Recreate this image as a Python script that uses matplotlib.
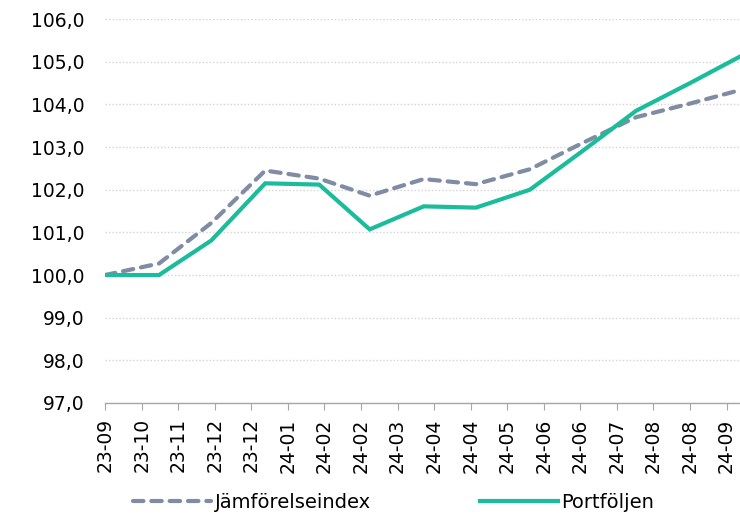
import numpy as np
import pandas as pd
import matplotlib
matplotlib.use("Agg")
import matplotlib.pyplot as plt
import matplotlib.dates as mdates
from matplotlib.ticker import FuncFormatter

# data (month ends, index 100 at start)
dates = ["2023-09-30", "2023-10-31", "2023-11-30", "2023-12-31", "2024-01-31",
         "2024-02-29", "2024-03-31", "2024-04-30", "2024-05-31", "2024-06-30",
         "2024-07-31", "2024-08-31", "2024-09-30"]
jamforelseindex = [100.0, 100.27, 101.22, 102.45, 102.26, 101.86, 102.25,
                   102.13, 102.48, 103.09, 103.70, 104.02, 104.35]
portfoljen = [100.0, 100.0, 100.81, 102.15, 102.12, 101.07, 101.61,
              101.58, 102.0, 102.90, 103.85, 104.50, 105.15]
tick_labels = ["23-09", "23-10", "23-11", "23-12", "23-12", "24-01", "24-02",
               "24-02", "24-03", "24-04", "24-04", "24-05", "24-06", "24-06",
               "24-07", "24-08", "24-08", "24-09"]

x = pd.to_datetime(dates)
teal = "#1bbc9b"
grey = "#7f8ca3"

plt.rcParams['font.family'] = ['DejaVu Sans']
plt.rcParams['font.size'] = 13.5

fig = plt.figure(figsize=(7.4, 5.16), dpi=100)
ax = fig.add_axes([0.142, 0.219, 0.858, 0.744])

ax.plot(x, jamforelseindex, color=grey, lw=3, dashes=(2.5, 1.9),
        dash_capstyle='round', solid_capstyle='round', label="Jämförelseindex", zorder=3)
ax.plot(x, portfoljen, color=teal, lw=3, solid_joinstyle='miter',
        label="Portföljen", zorder=4)

# y axis
ax.set_ylim(97, 106)
ax.set_yticks(np.arange(97, 106.5, 1))
ax.yaxis.set_major_formatter(FuncFormatter(lambda v, p: f"{v:.1f}".replace(".", ",")))
ax.tick_params(axis='y', length=0, pad=15)
ax.grid(axis='y', linestyle=(0, (1, 1.5)), color='#d4d4d4', lw=1)
ax.set_axisbelow(True)

# x axis: date ticks every 21 days (Excel-style)
ticks = [x[0] + pd.Timedelta(days=21 * i) for i in range(len(tick_labels))]
ax.set_xticks(mdates.date2num(ticks))
ax.set_xticklabels(tick_labels, rotation=90)
ax.set_xlim(x[0], x[0] + pd.Timedelta(days=364.7))
ax.tick_params(axis='x', length=5, color='#a6a6a6', pad=6)

for s in ['top', 'right', 'left']:
    ax.spines[s].set_visible(False)
ax.spines['bottom'].set_color('#a6a6a6')
ax.spines['bottom'].set_linewidth(1)

fig.legend(loc='center', bbox_to_anchor=(0.532, 0.026), ncol=2, frameon=False,
           fontsize=14, handlelength=4.0, handletextpad=0.2, columnspacing=5.6)

plt.savefig('out.png', dpi=100)
